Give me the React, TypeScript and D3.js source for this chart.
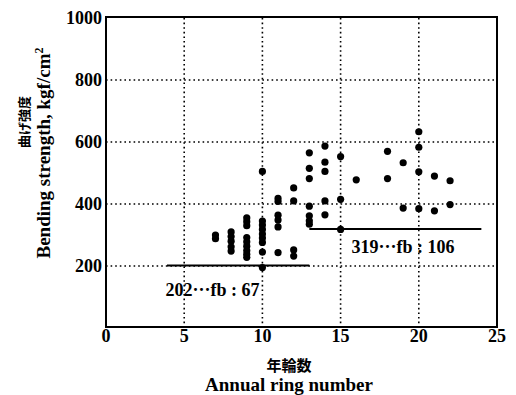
import React from "react";
import * as d3 from "d3";

const ringNumber = [
  7, 7,
  8, 8, 8, 8, 8,
  9, 9, 9, 9, 9, 9, 9, 9, 9,
  10, 10, 10, 10, 10, 10, 10, 10, 10,
  11, 11, 11, 11, 11, 11,
  12, 12, 12, 12,
  13, 13, 13, 13, 13, 13, 13,
  14, 14, 14, 14, 14,
  15, 15, 15,
  16,
  18, 18,
  19, 19,
  20, 20, 20, 20,
  21, 21,
  22, 22,
];
const strength = [
  300, 288,
  310, 295, 280, 262, 248,
  355, 343, 330, 292, 278, 264, 250, 238, 228,
  505, 345, 332, 318, 303, 290, 276, 245, 195,
  418, 408, 364, 348, 326, 243,
  452, 410, 252, 232,
  565, 515, 482, 393, 362, 346, 335,
  587, 535, 505, 410, 365,
  553, 415, 318,
  478,
  570, 482,
  533, 387,
  633, 583, 504, 385,
  490, 378,
  475, 398,
];

const xTicks = [0, 5, 10, 15, 20, 25];
const yTicks = [200, 400, 600, 800, 1000];
const xGrid = [5, 10, 15, 20];
const yGrid = [200, 400, 600, 800];

const meanLow = { from: 3.9, to: 13, value: 202, label: "202···fb : 67" };
const meanHigh = { from: 13, to: 24, value: 319, label: "319···fb : 106" };

const W = 516;
const H = 395;
const left = 106;
const right = 497;
const top = 18;
const bottom = 328;

export default function App() {
  const x = d3.scaleLinear().domain([0, 25]).range([left, right]);
  const y = d3.scaleLinear().domain([0, 1000]).range([bottom, top]);
  const serif = "'Liberation Serif', 'Times New Roman', serif";
  const pts = ringNumber.map((r, i) => ({ r, s: strength[i] }));
  return (
    <svg
      width={W}
      height={H}
      style={{ position: "absolute", left: 0, top: 0, background: "#fff" }}
    >
      <rect x={0} y={0} width={W} height={H} fill="#fff" />
      {xGrid.map((v) => (
        <line
          key={"gx" + v}
          x1={x(v)}
          x2={x(v)}
          y1={top}
          y2={bottom}
          stroke="#000"
          strokeWidth={1.6}
          strokeDasharray="1.6,3"
        />
      ))}
      {yGrid.map((v) => (
        <line
          key={"gy" + v}
          x1={left}
          x2={right}
          y1={y(v)}
          y2={y(v)}
          stroke="#000"
          strokeWidth={1.6}
          strokeDasharray="1.6,3"
        />
      ))}
      {[meanLow, meanHigh].map((m, i) => (
        <line
          key={"m" + i}
          x1={x(m.from)}
          x2={x(m.to)}
          y1={y(m.value)}
          y2={y(m.value)}
          stroke="#000"
          strokeWidth={2}
        />
      ))}
      {pts.map((p, i) => (
        <circle key={i} cx={x(p.r)} cy={y(p.s)} r={3.6} fill="#000" />
      ))}
      <rect
        x={left}
        y={top - 1}
        width={right - left}
        height={bottom - top}
        fill="none"
        stroke="#000"
        strokeWidth={2}
      />
      {xTicks.map((v) => (
        <text
          key={"xt" + v}
          x={x(v)}
          y={bottom + 14}
          textAnchor="middle"
          fontFamily={serif}
          fontWeight="bold"
          fontSize={18}
        >
          {v}
        </text>
      ))}
      {yTicks.map((v) => (
        <text
          key={"yt" + v}
          x={left - 4}
          y={y(v) + 6}
          textAnchor="end"
          fontFamily={serif}
          fontWeight="bold"
          fontSize={18}
        >
          {v}
        </text>
      ))}
      <text
        x={x(3.8)}
        y={y(meanLow.value) + 31}
        fontFamily={serif}
        fontWeight="bold"
        fontSize={18}
      >
        {meanLow.label}
      </text>
      <text
        x={x(15.7)}
        y={y(meanHigh.value) + 24}
        fontFamily={serif}
        fontWeight="bold"
        fontSize={18}
      >
        {meanHigh.label}
      </text>
      <text
        x={289}
        y={371}
        textAnchor="middle"
        fontFamily="'Noto Sans CJK JP', sans-serif"
        fontWeight="bold"
        fontSize={15}
      >
        年輪数
      </text>
      <text
        x={289}
        y={391}
        textAnchor="middle"
        fontFamily={serif}
        fontWeight="bold"
        fontSize={19}
      >
        Annual ring number
      </text>
      <text
        transform={`translate(29,122) rotate(-90)`}
        textAnchor="middle"
        fontFamily="'Noto Sans CJK JP', sans-serif"
        fontWeight="bold"
        fontSize={13}
      >
        曲げ強度
      </text>
      <text
        transform={`translate(50,153) rotate(-90)`}
        textAnchor="middle"
        fontFamily={serif}
        fontWeight="bold"
        fontSize={19}
      >
        Bending strength, kgf/cm
        <tspan dy={-7} fontSize={12}>
          2
        </tspan>
      </text>
    </svg>
  );
}
